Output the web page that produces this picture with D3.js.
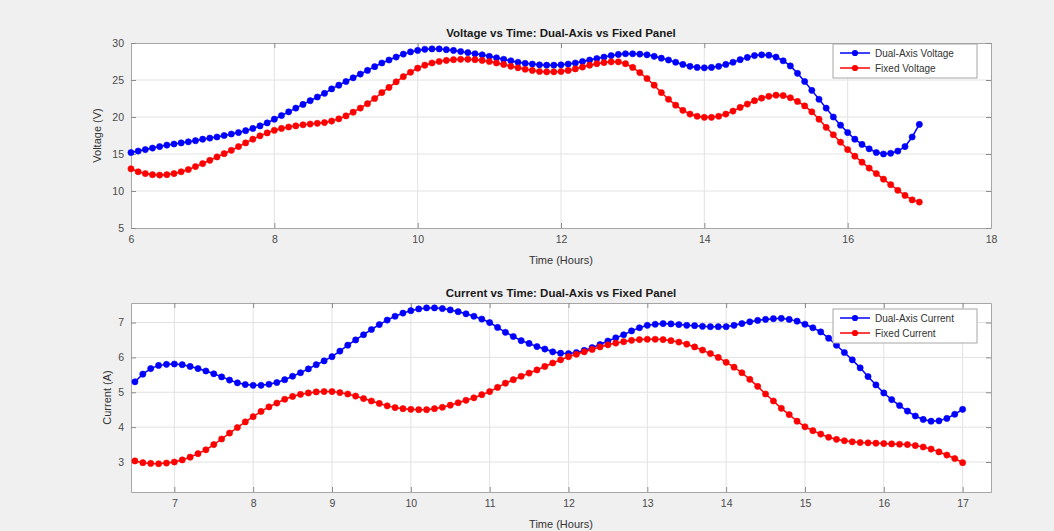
<!DOCTYPE html>
<html>
<head>
<meta charset="utf-8">
<script src="https://cdn.jsdelivr.net/npm/d3@7"></script>
<style>
  html, body { margin: 0; padding: 0; background: #f0f0f0; }
  svg { display: block; }
  text { font-family: "Liberation Sans", Arial, Helvetica, sans-serif; }
</style>
</head>
<body>
<svg id="chart" width="1054" height="531"></svg>
<script>
// Sample times (hours)
const hoursV = [6.0,6.1,6.2,6.3,6.4,6.5,6.6,6.7,6.8,6.9,7.0,7.1,7.2,7.3,7.4,7.5,7.6,7.7,7.8,7.9,
  8.0,8.1,8.2,8.3,8.4,8.5,8.6,8.7,8.8,8.9,9.0,9.1,9.2,9.3,9.4,9.5,9.6,9.7,9.8,9.9,
  10.0,10.1,10.2,10.3,10.4,10.5,10.6,10.7,10.8,10.9,11.0,11.1,11.2,11.3,11.4,11.5,11.6,11.7,11.8,11.9,
  12.0,12.1,12.2,12.3,12.4,12.5,12.6,12.7,12.8,12.9,13.0,13.1,13.2,13.3,13.4,13.5,13.6,13.7,13.8,13.9,
  14.0,14.1,14.2,14.3,14.4,14.5,14.6,14.7,14.8,14.9,15.0,15.1,15.2,15.3,15.4,15.5,15.6,15.7,15.8,15.9,
  16.0,16.1,16.2,16.3,16.4,16.5,16.6,16.7,16.8,16.9,17.0];

const dualVoltage = [15.2,15.4,15.6,15.8,16.0,16.2,16.35,16.5,16.65,16.8,17.0,17.15,17.3,17.5,17.7,17.9,18.15,18.45,18.8,19.2,
  19.7,20.2,20.7,21.2,21.7,22.2,22.7,23.2,23.8,24.3,24.8,25.3,25.8,26.3,26.8,27.3,27.7,28.1,28.5,28.8,
  29.0,29.15,29.2,29.2,29.1,29.0,28.85,28.7,28.55,28.4,28.2,28.0,27.8,27.6,27.4,27.25,27.15,27.05,27.0,27.0,
  27.05,27.15,27.3,27.5,27.7,27.9,28.1,28.3,28.45,28.55,28.55,28.5,28.4,28.2,27.95,27.7,27.4,27.1,26.85,26.7,
  26.65,26.7,26.85,27.1,27.4,27.75,28.05,28.3,28.4,28.35,28.1,27.6,26.9,25.9,24.8,23.6,22.4,21.2,20.0,18.9,
  17.9,17.0,16.3,15.7,15.2,15.0,15.1,15.4,16.0,17.3,19.0];

const fixedVoltage = [13.0,12.6,12.35,12.2,12.15,12.2,12.35,12.6,12.9,13.3,13.7,14.15,14.6,15.05,15.5,16.0,16.5,17.0,17.45,17.85,
  18.2,18.45,18.65,18.8,18.95,19.05,19.15,19.25,19.45,19.75,20.15,20.65,21.2,21.8,22.5,23.3,24.0,24.75,25.45,26.05,
  26.6,27.0,27.3,27.5,27.65,27.75,27.8,27.8,27.75,27.65,27.5,27.3,27.1,26.85,26.65,26.45,26.3,26.15,26.1,26.1,
  26.15,26.3,26.5,26.75,27.0,27.2,27.35,27.45,27.45,27.2,26.7,26.0,25.2,24.3,23.3,22.4,21.6,20.9,20.4,20.1,
  19.95,19.95,20.1,20.4,20.8,21.3,21.75,22.2,22.55,22.8,22.95,22.9,22.6,22.1,21.5,20.7,19.7,18.6,17.6,16.6,
  15.6,14.7,13.9,13.1,12.35,11.6,10.85,10.1,9.4,8.8,8.5];

const hoursI = [6.5,6.6,6.7,6.8,6.9,7.0,7.1,7.2,7.3,7.4,7.5,7.6,7.7,7.8,7.9,
  8.0,8.1,8.2,8.3,8.4,8.5,8.6,8.7,8.8,8.9,9.0,9.1,9.2,9.3,9.4,9.5,9.6,9.7,9.8,9.9,
  10.0,10.1,10.2,10.3,10.4,10.5,10.6,10.7,10.8,10.9,11.0,11.1,11.2,11.3,11.4,11.5,11.6,11.7,11.8,11.9,
  12.0,12.1,12.2,12.3,12.4,12.5,12.6,12.7,12.8,12.9,13.0,13.1,13.2,13.3,13.4,13.5,13.6,13.7,13.8,13.9,
  14.0,14.1,14.2,14.3,14.4,14.5,14.6,14.7,14.8,14.9,15.0,15.1,15.2,15.3,15.4,15.5,15.6,15.7,15.8,15.9,
  16.0,16.1,16.2,16.3,16.4,16.5,16.6,16.7,16.8,16.9,17.0];

const dualCurrent = [5.30,5.52,5.68,5.77,5.80,5.81,5.79,5.74,5.68,5.61,5.53,5.44,5.35,5.27,5.22,
  5.20,5.20,5.23,5.28,5.36,5.46,5.56,5.67,5.79,5.90,6.02,6.18,6.35,6.50,6.65,6.80,6.94,7.07,7.18,7.27,
  7.34,7.39,7.42,7.42,7.40,7.36,7.31,7.25,7.18,7.10,7.00,6.86,6.72,6.60,6.48,6.40,6.31,6.24,6.16,6.12,
  6.11,6.14,6.20,6.28,6.37,6.47,6.56,6.65,6.76,6.85,6.92,6.95,6.97,6.96,6.94,6.92,6.91,6.89,6.88,6.88,
  6.88,6.92,6.97,7.02,7.06,7.09,7.11,7.12,7.09,7.04,6.95,6.85,6.73,6.55,6.35,6.14,5.93,5.70,5.45,5.21,
  4.98,4.79,4.62,4.46,4.32,4.22,4.17,4.18,4.25,4.37,4.51];

const fixedCurrent = [3.03,2.98,2.96,2.95,2.97,3.00,3.06,3.14,3.24,3.35,3.50,3.66,3.83,3.99,4.15,
  4.30,4.45,4.58,4.69,4.80,4.88,4.94,4.98,5.01,5.02,5.02,4.99,4.95,4.89,4.82,4.75,4.68,4.61,4.56,4.53,
  4.51,4.50,4.50,4.53,4.57,4.63,4.70,4.77,4.84,4.93,5.02,5.14,5.26,5.36,5.46,5.55,5.64,5.74,5.84,5.93,
  6.02,6.09,6.16,6.23,6.30,6.36,6.41,6.45,6.49,6.51,6.52,6.52,6.51,6.48,6.44,6.38,6.30,6.21,6.11,6.00,
  5.86,5.72,5.56,5.37,5.17,4.95,4.75,4.54,4.36,4.17,4.01,3.90,3.80,3.71,3.65,3.61,3.58,3.56,3.55,3.54,
  3.53,3.52,3.51,3.50,3.47,3.43,3.37,3.29,3.20,3.10,2.98];

// Axis ticks
const voltageXTicks = [6, 8, 10, 12, 14, 16, 18];
const voltageYTicks = [5, 10, 15, 20, 25, 30];
const currentXTicks = [7, 8, 9, 10, 11, 12, 13, 14, 15, 16, 17];
const currentYTicks = [3, 4, 5, 6, 7];

const BLUE = "#0000ff";
const RED = "#ff0000";

const svg = d3.select("#chart");

function drawPanel(cfg) {
  const { left, right, top, bottom } = cfg.box;
  const x = d3.scaleLinear().domain(cfg.xDomain).range([left, right]);
  const y = d3.scaleLinear().domain(cfg.yDomain).range([bottom, top]);
  const g = svg.append("g");

  // plot background
  g.append("rect").attr("x", left).attr("y", top)
    .attr("width", right - left).attr("height", bottom - top)
    .attr("fill", "#ffffff");

  // grid
  g.append("g").selectAll("line").data(cfg.xTicks.filter(t => x(t) > left + 0.5 && x(t) < right - 0.5))
    .join("line")
    .attr("x1", d => x(d)).attr("x2", d => x(d))
    .attr("y1", top).attr("y2", bottom)
    .attr("stroke", "#e2e2e2").attr("stroke-width", 1);
  g.append("g").selectAll("line").data(cfg.yTicks.filter(t => y(t) > top + 0.5 && y(t) < bottom - 0.5))
    .join("line")
    .attr("x1", left).attr("x2", right)
    .attr("y1", d => y(d)).attr("y2", d => y(d))
    .attr("stroke", "#e2e2e2").attr("stroke-width", 1);

  // axes with inward ticks
  const axStyle = sel => {
    sel.select(".domain").attr("stroke", "#a6a6a6");
    sel.selectAll(".tick line").attr("stroke", "#8c8c8c");
    sel.selectAll(".tick text").attr("fill", "#4a4a4a").attr("font-size", 10.5);
  };
  g.append("g").attr("transform", `translate(0,${bottom})`)
    .call(d3.axisBottom(x).tickValues(cfg.xTicks).tickSizeInner(-5).tickSizeOuter(0).tickPadding(8).tickFormat(d3.format("d")))
    .call(axStyle);
  g.append("g").attr("transform", `translate(0,${top})`)
    .call(d3.axisTop(x).tickValues(cfg.xTicks).tickSizeInner(-5).tickSizeOuter(0).tickFormat(""))
    .call(axStyle);
  g.append("g").attr("transform", `translate(${left},0)`)
    .call(d3.axisLeft(y).tickValues(cfg.yTicks).tickSizeInner(-5).tickSizeOuter(0).tickPadding(7).tickFormat(d3.format("d")))
    .call(axStyle);
  g.append("g").attr("transform", `translate(${right},0)`)
    .call(d3.axisRight(y).tickValues(cfg.yTicks).tickSizeInner(-5).tickSizeOuter(0).tickFormat(""))
    .call(axStyle);

  // series
  const line = d3.line().x(d => x(d[0])).y(d => y(d[1]));
  cfg.series.forEach(s => {
    const pts = cfg.hours.map((h, i) => [h, s.values[i]]);
    g.append("path").datum(pts)
      .attr("d", line).attr("fill", "none")
      .attr("stroke", s.color).attr("stroke-width", 1.5);
    g.append("g").selectAll("circle").data(pts).join("circle")
      .attr("cx", d => x(d[0])).attr("cy", d => y(d[1]))
      .attr("r", 3.1).attr("fill", s.color).attr("stroke", s.color).attr("stroke-width", 0.6);
  });

  // title
  g.append("text").attr("x", (left + right) / 2).attr("y", top - 6)
    .attr("text-anchor", "middle").attr("font-size", 11.5).attr("font-weight", "bold")
    .attr("fill", "#1a1a1a").text(cfg.title);

  // axis labels
  g.append("text").attr("x", (left + right) / 2).attr("y", bottom + 36)
    .attr("text-anchor", "middle").attr("font-size", 11).attr("fill", "#333")
    .text("Time (Hours)");
  g.append("text")
    .attr("transform", `translate(${cfg.yLabelX},${(top + bottom) / 2}) rotate(-90)`)
    .attr("text-anchor", "middle").attr("font-size", 11).attr("fill", "#333")
    .text(cfg.yLabel);

  // legend
  const lg = g.append("g");
  const lx = 833, lw = 144, ly = top + cfg.legendOffset, lh = 34;
  lg.append("rect").attr("x", lx).attr("y", ly).attr("width", lw).attr("height", lh)
    .attr("fill", "#ffffff").attr("stroke", "#a6a6a6").attr("stroke-width", 1);
  cfg.series.forEach((s, i) => {
    const ry = ly + 9 + i * 15;
    lg.append("line").attr("x1", lx + 7).attr("x2", lx + 37).attr("y1", ry).attr("y2", ry)
      .attr("stroke", s.color).attr("stroke-width", 1.5);
    lg.append("circle").attr("cx", lx + 22).attr("cy", ry).attr("r", 3.1).attr("fill", s.color);
    lg.append("text").attr("x", lx + 42).attr("y", ry + 3.5)
      .attr("font-size", 10).attr("fill", "#333").text(s.name);
  });
}

drawPanel({
  box: { left: 131, right: 991, top: 43, bottom: 228 },
  xDomain: [6, 18], yDomain: [5, 30],
  xTicks: voltageXTicks, yTicks: voltageYTicks,
  hours: hoursV,
  series: [
    { name: "Dual-Axis Voltage", values: dualVoltage, color: BLUE },
    { name: "Fixed Voltage", values: fixedVoltage, color: RED }
  ],
  title: "Voltage vs Time: Dual-Axis vs Fixed Panel",
  yLabel: "Voltage (V)", yLabelX: 101, legendOffset: 1
});

drawPanel({
  box: { left: 131, right: 991, top: 303, bottom: 492 },
  xDomain: [6.45, 17.36], yDomain: [2.14, 7.56],
  xTicks: currentXTicks, yTicks: currentYTicks,
  hours: hoursI,
  series: [
    { name: "Dual-Axis Current", values: dualCurrent, color: BLUE },
    { name: "Fixed Current", values: fixedCurrent, color: RED }
  ],
  title: "Current vs Time: Dual-Axis vs Fixed Panel",
  yLabel: "Current (A)", yLabelX: 111, legendOffset: 6
});
</script>
</body>
</html>
